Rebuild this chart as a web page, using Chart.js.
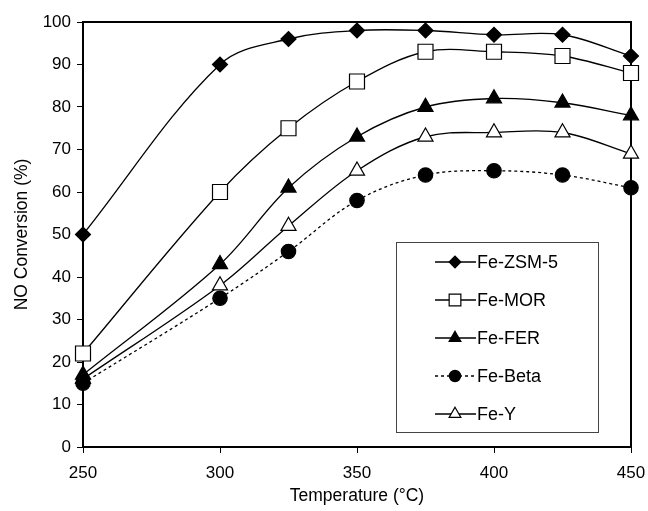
<!DOCTYPE html>
<html>
<head>
<meta charset="utf-8">
<script src="https://cdn.jsdelivr.net/npm/chart.js@4/dist/chart.umd.min.js"></script>
<style>
  html, body { margin: 0; padding: 0; background: #fff; }
  #wrap { width: 648px; height: 511px; }
</style>
</head>
<body>
<div id="wrap"><canvas id="chart" width="648" height="511"></canvas></div>
<script>
(function() {
'use strict';

// NO conversion (%) per catalyst vs. temperature (°C)
const temps = [250, 300, 325, 350, 375, 400, 425, 450];
const feZsm5 = [50, 90, 96, 98, 98, 97, 97, 92];
const feMor = [22, 60, 75, 86, 93, 93, 92, 88];
const feFer = [17, 43, 61, 73, 80, 82, 81, 78];
const feBeta = [15, 35, 46, 58, 64, 65, 64, 61];
const feY = [16, 38, 52, 65, 73, 74, 74, 69];

const xRange = [250, 450];
const xStep = 50;
const yRange = [0, 100];
const yStep = 10;

const FONT = 'Liberation Sans, Arial, Helvetica, sans-serif';
const tickFont = { family: FONT, size: 17 };
const titleFont = { family: FONT, size: 17.5 };

function pts(values) {
  return values.map((v, i) => ({ x: temps[i], y: v }));
}

function series(label, values, style, fill, radius, dash) {
  return {
    label: label,
    data: pts(values),
    borderColor: '#000',
    borderWidth: 1.3,
    borderDash: dash || [],
    tension: 0.35,
    pointStyle: style,
    pointRadius: radius,
    pointHoverRadius: radius,
    pointBackgroundColor: fill,
    pointBorderColor: '#000',
    pointBorderWidth: 1.2,
    // legend marker size
    legendRadius: radius * 0.78,
    clip: false,
  };
}

// box around the plot area, under the markers
const plotFrame = {
  id: 'plotFrame',
  beforeDatasetsDraw(chart) {
    const { ctx, chartArea: a } = chart;
    ctx.save();
    ctx.strokeStyle = '#000';
    ctx.lineWidth = 2;
    ctx.strokeRect(a.left, a.top, a.right - a.left, a.bottom - a.top);
    ctx.restore();
  }
};

// legend drawn inside the plot, lower right
const boxLegend = {
  id: 'boxLegend',
  afterDatasetsDraw(chart) {
    const { ctx, chartArea: a } = chart;
    const left = a.right - 235, top = a.top + 220, w = 202, h = 190;
    ctx.save();
    ctx.fillStyle = '#fff';
    ctx.fillRect(left, top, w, h);
    ctx.strokeStyle = '#444';
    ctx.lineWidth = 1;
    ctx.strokeRect(left + 0.5, top + 0.5, w, h);

    chart.data.datasets.forEach((ds, i) => {
      const y = top + 20 + i * 38;
      ctx.strokeStyle = '#000';
      ctx.lineWidth = ds.borderWidth;
      ctx.setLineDash(ds.borderDash);
      ctx.beginPath();
      ctx.moveTo(left + 39, y);
      ctx.lineTo(left + 80, y);
      ctx.stroke();
      ctx.setLineDash([]);

      ctx.fillStyle = ds.pointBackgroundColor;
      ctx.strokeStyle = '#000';
      ctx.lineWidth = ds.pointBorderWidth;
      Chart.helpers.drawPoint(ctx, {
        pointStyle: ds.pointStyle,
        radius: ds.legendRadius,
        rotation: 0,
        borderWidth: ds.pointBorderWidth,
      }, left + 59, y);

      ctx.fillStyle = '#000';
      ctx.font = '18px ' + FONT;
      ctx.textBaseline = 'middle';
      ctx.textAlign = 'left';
      ctx.fillText(ds.label, left + 81, y + 1);
    });
    ctx.restore();
  }
};

new Chart(document.getElementById('chart'), {
  type: 'line',
  data: {
    datasets: [
      series('Fe-ZSM-5', feZsm5, 'rectRot', '#000', 7.5),
      series('Fe-MOR', feMor, 'rect', '#fff', 10.6),
      series('Fe-FER', feFer, 'triangle', '#000', 8.7),
      series('Fe-Beta', feBeta, 'circle', '#000', 7.2, [3, 3]),
      series('Fe-Y', feY, 'triangle', '#fff', 8.7),
    ]
  },
  options: {
    responsive: false,
    animation: false,
    layout: { padding: { top: 22, right: 17, left: 0, bottom: 0 } },
    plugins: {
      legend: { display: false },
      tooltip: { enabled: false },
    },
    scales: {
      x: {
        type: 'linear',
        min: xRange[0],
        max: xRange[1],
        afterFit(scale) {
          scale.height = 64;
          scale.paddingLeft = 0;
          scale.paddingRight = 0;
        },
        ticks: { stepSize: xStep, color: '#000', font: tickFont, padding: 10, maxRotation: 0 },
        grid: { drawOnChartArea: false, drawTicks: true, tickLength: 6, color: '#000', lineWidth: 1 },
        border: { color: '#000', width: 2 },
        title: { display: true, text: 'Temperature (°C)', color: '#000', font: titleFont, padding: { top: 0, bottom: 4 } },
      },
      y: {
        min: yRange[0],
        max: yRange[1],
        afterFit(scale) {
          scale.width = 83;
          scale.paddingTop = 0;
          scale.paddingBottom = 0;
        },
        ticks: { stepSize: yStep, color: '#000', font: tickFont, padding: 6 },
        grid: { drawOnChartArea: false, drawTicks: true, tickLength: 6, color: '#000', lineWidth: 1 },
        border: { color: '#000', width: 2 },
        title: { display: true, text: 'NO Conversion (%)', color: '#000', font: titleFont, padding: { top: 12, bottom: 0 } },
      }
    }
  },
  plugins: [plotFrame, boxLegend]
});

})();
</script>
</body>
</html>
